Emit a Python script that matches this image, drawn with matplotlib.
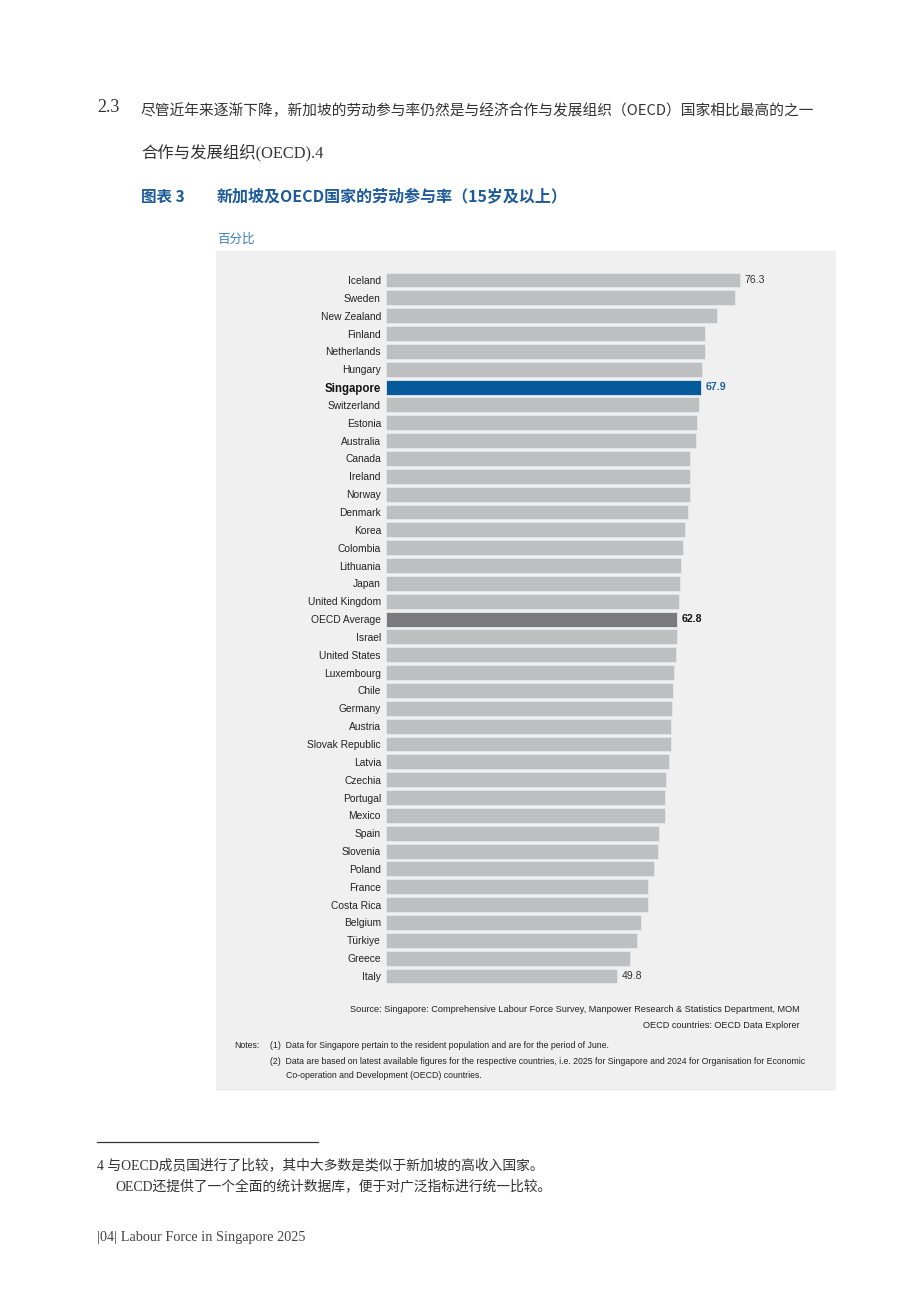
import matplotlib
matplotlib.use("Agg")
import matplotlib.pyplot as plt
from matplotlib.lines import Line2D

countries = ["Iceland", "Sweden", "New Zealand", "Finland", "Netherlands", "Hungary",
             "Singapore", "Switzerland", "Estonia", "Australia", "Canada", "Ireland",
             "Norway", "Denmark", "Korea", "Colombia", "Lithuania", "Japan",
             "United Kingdom", "OECD Average", "Israel", "United States", "Luxembourg",
             "Chile", "Germany", "Austria", "Slovak Republic", "Latvia", "Czechia",
             "Portugal", "Mexico", "Spain", "Slovenia", "Poland", "France", "Costa Rica",
             "Belgium", "Türkiye", "Greece", "Italy"]
values = [76.3, 75.3, 71.4, 68.9, 68.9, 68.1,
          67.9, 67.5, 67.0, 66.9, 65.5, 65.5,
          65.5, 65.2, 64.6, 64.0, 63.6, 63.4,
          63.2, 62.8, 62.7, 62.6, 62.2,
          62.0, 61.7, 61.5, 61.5, 61.1, 60.5,
          60.2, 60.1, 58.8, 58.7, 57.9, 56.6, 56.5,
          55.0, 54.2, 52.7, 49.8]
labelled = {"Iceland": "76.3", "Singapore": "67.9", "OECD Average": "62.8", "Italy": "49.8"}

W, H = 920, 1301
fig = plt.figure(figsize=(W / 100, H / 100), dpi=100)
fig.patch.set_facecolor("white")

def fx(x):
    return x / W

def fy(y):
    return 1 - y / H

CJK = ["Noto Sans CJK SC", "DejaVu Sans"]
SERIF_CJK = ["Liberation Serif", "Noto Sans CJK SC"]
SANS = ["Liberation Sans", "DejaVu Sans"]

# gray panel (background axes)
bg = fig.add_axes([fx(216), fy(1091), fx(836) - fx(216), fy(251) - fy(1091)])
bg.set_facecolor("#f0f0f0")
bg.set_xticks([])
bg.set_yticks([])
for s in bg.spines.values():
    s.set_visible(False)
bg.set_zorder(0)

# Header text
fig.text(fx(97), fy(108), "2.3", family=["Liberation Serif"], fontsize=13,
         color="#333333", va="center", ha="left")
fig.text(fx(141), fy(111),
         "尽管近年来逐渐下降，新加坡的劳动参与率仍然是与经济合作与发展组织（OECD）国家相比最高的之一",
         family=CJK, fontsize=10.6, color="#333333", va="center", ha="left")
fig.text(fx(141), fy(153), "合作与发展组织(OECD).4", family=SERIF_CJK, fontsize=11.8,
         color="#333333", va="center", ha="left")

title_color = "#1d5a99"
fig.text(fx(141), fy(197), "图表 3", family=CJK, fontsize=11.2, fontweight="bold",
         color=title_color, va="center", ha="left")
fig.text(fx(217), fy(197), "新加坡及OECD国家的劳动参与率（15岁及以上）", family=CJK,
         fontsize=11.5, fontweight="bold", color=title_color, va="center", ha="left")
fig.text(fx(217), fy(239), "百分比", family=CJK, fontsize=9, color="#3c7cbd",
         va="center", ha="left")

# Bar axes
px_per_unit = 4.628
x0 = 386.5
xmax = 80
top = 280 - 17.846 / 2
bot = 976 + 17.846 / 2
ax = fig.add_axes([fx(x0), fy(bot), xmax * px_per_unit / W, (bot - top) / H])
ax.set_zorder(2)
ax.patch.set_visible(False)
n = len(countries)
ypos = list(range(n))
colors = []
for c in countries:
    if c == "Singapore":
        colors.append("#045a9b")
    elif c == "OECD Average":
        colors.append("#7a7a7e")
    else:
        colors.append("#bdbfc1")
ax.barh(ypos, values, height=0.84, color=colors, edgecolor="#e6e7e8", linewidth=0.6)
ax.set_xlim(0, xmax)
ax.set_ylim(n - 0.5, -0.5)
ax.set_yticks(ypos)
ax.set_yticklabels(countries, family=SANS, fontsize=7.35, color="#222222")
for lbl in ax.get_yticklabels():
    if lbl.get_text() == "Singapore":
        lbl.set_fontweight("bold")
        lbl.set_fontsize(8.3)
        lbl.set_color("#111111")
ax.tick_params(axis="y", length=0, pad=4)
ax.set_xticks([])
for s in ax.spines.values():
    s.set_visible(False)

for i, (c, v) in enumerate(zip(countries, values)):
    if c in labelled:
        kw = dict(family=SANS, fontsize=7.6, va="center", ha="left")
        if c == "Singapore":
            kw.update(color="#1b5d9c", fontweight="bold")
        elif c == "OECD Average":
            kw.update(color="#111111", fontweight="bold")
        else:
            kw.update(color="#333333")
        ax.text(v + 1.0, i, labelled[c], **kw)

# Source & notes
fs_src = 6.6
fs = 6.28
fig.text(fx(800), fy(1010),
         "Source: Singapore: Comprehensive Labour Force Survey, Manpower Research & Statistics Department, MOM",
         family=SANS, fontsize=fs_src, color="#222222", ha="right", va="center")
fig.text(fx(800), fy(1026), "OECD countries: OECD Data Explorer",
         family=SANS, fontsize=fs_src, color="#222222", ha="right", va="center")
fig.text(fx(234), fy(1045), "Notes:", family=SANS, fontsize=fs, color="#222222",
         ha="left", va="center")
fig.text(fx(270), fy(1045),
         "(1)  Data for Singapore pertain to the resident population and are for the period of June.",
         family=SANS, fontsize=fs, color="#222222", ha="left", va="center")
fig.text(fx(270), fy(1061),
         "(2)  Data are based on latest available figures for the respective countries, i.e. 2025 for Singapore and 2024 for Organisation for Economic",
         family=SANS, fontsize=fs, color="#222222", ha="left", va="center")
fig.text(fx(286), fy(1076), "Co-operation and Development (OECD) countries.",
         family=SANS, fontsize=fs, color="#222222", ha="left", va="center")

# Footnote
fig.add_artist(Line2D([fx(97), fx(318)], [fy(1142), fy(1142)], transform=fig.transFigure,
                      color="#333333", linewidth=0.9))
fig.text(fx(97), fy(1165), "4 与OECD成员国进行了比较，其中大多数是类似于新加坡的高收入国家。",
         family=SERIF_CJK, fontsize=9.95, color="#333333", ha="left", va="center")
fig.text(fx(115), fy(1186), "OECD还提供了一个全面的统计数据库，便于对广泛指标进行统一比较。",
         family=SERIF_CJK, fontsize=9.95, color="#333333", ha="left", va="center")
fig.text(fx(97), fy(1238), "|04| Labour Force in Singapore 2025", family=["Liberation Serif"],
         fontsize=10.3, color="#444444", ha="left", va="center")

fig.savefig("out.png", dpi=100, facecolor="white")
